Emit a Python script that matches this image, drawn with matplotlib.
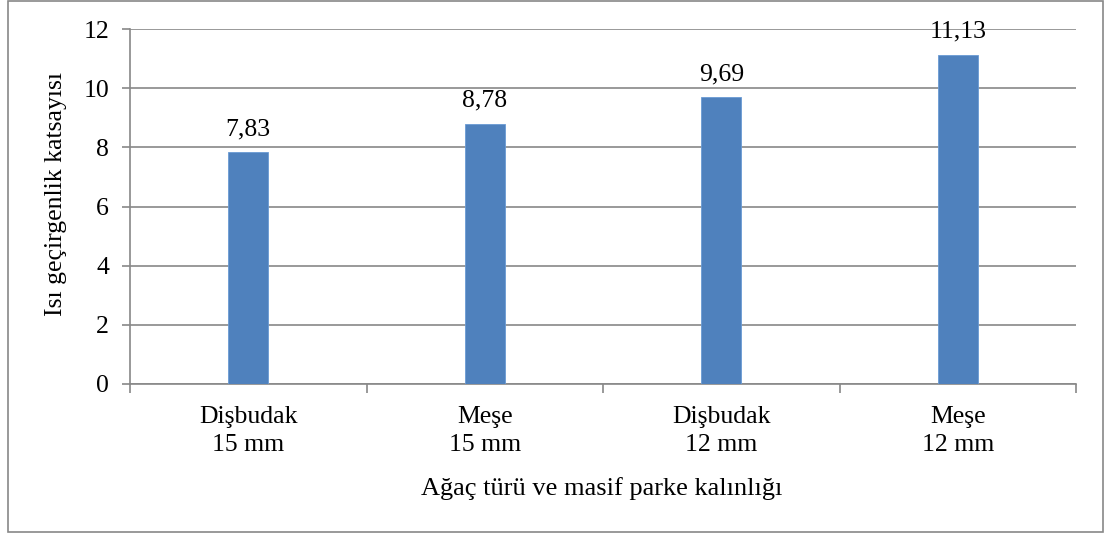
import matplotlib
matplotlib.use("Agg")
import matplotlib.pyplot as plt
from matplotlib.patches import Rectangle

categories = ["Dişbudak\n15 mm", "Meşe\n15 mm", "Dişbudak\n12 mm", "Meşe\n12 mm"]
values = [7.83, 8.78, 9.69, 11.13]
labels = ["7,83", "8,78", "9,69", "11,13"]
yticks = [0, 2, 4, 6, 8, 10, 12]

plt.rcParams['font.family'] = ['Liberation Serif', 'DejaVu Serif']
FS = 18.5

W, H = 1105, 535
fig = plt.figure(figsize=(W / 100, H / 100), dpi=100)
ax = fig.add_axes([130 / W, 1 - 384 / H, (1076 - 130) / W, (384 - 29) / H])

x = list(range(len(categories)))
ax.bar(x, values, width=0.17, color="#4F81BD", edgecolor="#6A9BD4", linewidth=0.6, zorder=3)
ax.set_xlim(-0.5, len(categories) - 0.5)
ax.set_ylim(0, 12)
ax.set_yticks(yticks)
ax.set_yticklabels([str(t) for t in yticks], fontsize=FS)
ax.yaxis.grid(True, color="#888888", linewidth=1.2, zorder=0)
ax.set_axisbelow(True)

ax.set_xticks(x)
ax.set_xticklabels(categories, fontsize=FS, linespacing=1.33)
ax.tick_params(axis='x', length=0, pad=16)
ax.set_xticks([i - 0.5 for i in range(len(categories) + 1)], minor=True)
ax.tick_params(axis='x', which='minor', length=6.5, color="#888888", width=1.2)
ax.tick_params(axis='y', length=6, color="#888888", width=1.2, pad=9)

for s in ['top', 'right']:
    ax.spines[s].set_visible(False)
for s in ['left', 'bottom']:
    ax.spines[s].set_color("#888888")
    ax.spines[s].set_linewidth(1.2)

for xi, v, lab in zip(x, values, labels):
    ax.annotate(lab, (xi, v), xytext=(0, 12.5), textcoords='offset points',
                ha='center', va='baseline', fontsize=FS)

fig.text(56 / W, 1 - 194 / H, "Isı geçirgenlik katsayısı", rotation=90,
         ha='center', va='center', fontsize=FS)
fig.text(602 / W, 1 - 495 / H, "Ağaç türü ve masif parke kalınlığı",
         ha='center', va='baseline', fontsize=19)

fig.add_artist(Rectangle((8 / W, 1 - 532 / H), (1103 - 8) / W, (532 - 1) / H,
                         transform=fig.transFigure, fill=False,
                         edgecolor="#888888", linewidth=1.2))

fig.savefig("out.png", dpi=100)
